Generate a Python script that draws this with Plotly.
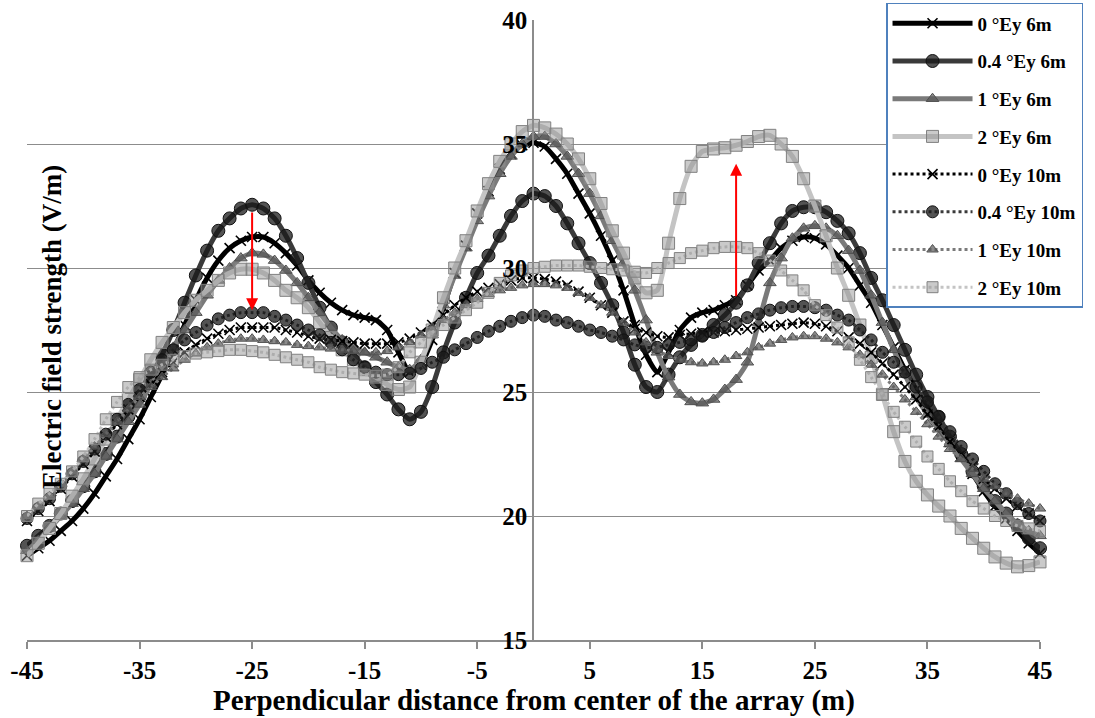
import plotly.graph_objects as go

# ---------------- data ----------------
x_pos = list(range(-45, 46))

e0_6 = [18.4, 18.7, 19.0, 19.4, 19.8, 20.3, 20.9, 21.6, 22.3, 23.1,
        23.9, 24.8, 25.7, 26.7, 27.7, 28.7, 29.6, 30.3, 30.8, 31.1,
        31.25, 31.25, 31.0, 30.6, 30.1, 29.5, 29.0, 28.6, 28.3, 28.1,
        28.0, 27.9, 27.5, 26.6, 25.8, 26.1, 27.1, 28.4, 29.8, 30.9,
        32.2, 33.1, 34.0, 34.6, 34.95,
        35.05,
        34.9, 34.4, 33.8, 33.0, 32.2, 31.3, 30.3, 29.1, 27.7, 26.5,
        25.8, 26.6, 27.5, 28.0, 28.2, 28.3, 28.5, 28.7, 29.3, 29.9,
        30.3, 30.8, 31.1, 31.25, 31.2, 30.95, 30.5, 30.0, 29.3, 28.6,
        27.7, 26.8, 25.9, 25.1, 24.4, 23.7, 23.1, 22.4, 21.7, 21.0,
        20.4, 19.9, 19.4, 18.9, 18.5]

e04_6 = [18.8, 19.2, 19.6, 20.1, 20.6, 21.2, 21.8, 22.5, 23.2, 24.0,
         24.8, 25.6, 26.5, 27.5, 28.6, 29.7, 30.7, 31.5, 32.0, 32.4,
         32.55, 32.4, 32.0, 31.3, 30.4, 29.4, 28.4, 27.6, 27.0, 26.5,
         26.0, 25.4, 24.9, 24.3, 23.9, 24.2, 25.2, 26.6, 27.8, 28.8,
         29.8, 30.5, 31.3, 32.1, 32.7,
         33.0,
         32.9, 32.5, 31.8, 31.0, 30.2, 29.4, 28.5, 27.4, 26.1, 25.2,
         25.0, 25.7, 26.4, 26.9, 27.3, 27.7, 28.1, 28.6, 29.3, 30.2,
         31.0, 31.8, 32.3, 32.45, 32.45, 32.25, 31.9, 31.4, 30.6, 29.6,
         28.7, 27.7, 26.7, 25.7, 24.8, 24.0, 23.2, 22.5, 21.8, 21.2,
         20.6, 20.1, 19.6, 19.1, 18.7]

e1_6 = [18.6, 19.0, 19.5, 20.0, 20.5, 21.1, 21.7, 22.4, 23.1, 23.8,
        24.5, 25.3, 26.0, 26.8, 27.5, 28.2, 28.9, 29.5, 30.0, 30.4,
        30.6, 30.55, 30.3, 29.9, 29.4, 28.8, 28.2, 27.6, 27.1, 26.8,
        26.6, 26.4, 26.2, 26.0, 25.9, 26.3, 27.3, 28.5, 29.7, 30.8,
        31.9, 32.9, 33.8, 34.5, 35.0,
        35.3,
        35.3, 35.0, 34.5, 33.8, 33.0, 32.1, 31.1, 30.2, 29.1, 27.9,
        26.6, 25.6, 24.9, 24.6, 24.55, 24.7, 25.1, 25.5, 26.2, 27.8,
        29.4, 30.4, 31.2, 31.6, 31.7, 31.6, 31.3, 30.7, 29.9, 28.9,
        27.8, 26.7, 25.7, 24.8, 24.1, 23.5, 22.9, 22.3, 21.7, 21.1,
        20.6, 20.1, 19.7, 19.4, 19.2]

e2_6 = [18.4, 18.9, 19.5, 20.1, 20.8, 21.5, 22.3, 23.1, 23.9, 24.7,
        25.5, 26.3, 27.0, 27.6, 28.2, 28.7, 29.1, 29.5, 29.8, 29.95,
        29.95, 29.8, 29.5, 29.1, 28.8, 28.4, 27.8, 27.2, 26.7, 26.3,
        25.9, 25.6, 25.3, 25.1, 25.2, 26.2, 27.5, 28.8, 30.0, 31.1,
        32.3, 33.4, 34.3, 35.0, 35.5,
        35.75,
        35.65, 35.4, 35.0, 34.4, 33.6, 32.6, 31.5, 30.6, 29.6, 29.0,
        29.1, 31.0, 32.8, 34.1, 34.7, 34.8, 34.85, 34.95, 35.1, 35.3,
        35.35, 35.0, 34.5, 33.6, 32.5, 31.3, 30.0, 28.9, 27.7, 26.4,
        24.9, 23.4, 22.2, 21.4, 20.85, 20.4, 20.0, 19.5, 19.1, 18.7,
        18.35, 18.1, 17.95, 18.0, 18.15]

e0_10 = [19.8, 20.2, 20.6, 21.1, 21.6, 22.1, 22.6, 23.2, 23.7, 24.3,
         24.8, 25.3, 25.8, 26.2, 26.6, 26.9, 27.15, 27.35, 27.5, 27.6,
         27.6, 27.6, 27.6, 27.5, 27.4, 27.25, 27.15, 27.1, 27.05, 27.0,
         26.95, 26.95, 26.95, 27.0, 27.15, 27.4, 27.7, 28.1, 28.5, 28.8,
         29.05, 29.2, 29.35, 29.5, 29.6,
         29.6,
         29.55, 29.45, 29.3, 29.05, 28.8, 28.5, 28.2, 27.85, 27.55, 27.4,
         27.25, 27.2, 27.3, 27.35, 27.4, 27.4, 27.45, 27.5, 27.55, 27.6,
         27.65, 27.7, 27.75, 27.8, 27.75, 27.65, 27.45, 27.2, 26.95, 26.6,
         26.15, 25.7, 25.2, 24.7, 24.1, 23.6, 23.0, 22.5, 22.0, 21.5,
         21.1, 20.7, 20.4, 20.1, 19.8]

e04_10 = [19.9, 20.3, 20.7, 21.2, 21.7, 22.2, 22.7, 23.3, 23.9, 24.5,
          25.1, 25.8, 26.3, 26.7, 27.1, 27.4, 27.7, 27.95, 28.1, 28.2,
          28.2, 28.2, 28.05, 27.9, 27.7, 27.5, 27.3, 27.0, 26.7, 26.3,
          26.0, 25.8, 25.7, 25.7, 25.75, 25.95, 26.2, 26.4, 26.7, 26.95,
          27.2, 27.45, 27.65, 27.85, 28.0,
          28.1,
          28.05, 27.9, 27.8, 27.65, 27.5, 27.4, 27.25, 27.1, 26.9, 26.8,
          26.8, 26.9, 27.0, 27.1, 27.25, 27.4, 27.6, 27.8, 28.0, 28.15,
          28.3, 28.4, 28.45, 28.45, 28.4, 28.3, 28.1, 27.9, 27.5, 27.1,
          26.6, 26.2, 25.8, 25.2, 24.6, 24.0, 23.4, 22.8, 22.3, 21.8,
          21.3, 20.9, 20.5, 20.1, 19.8]

e1_10 = [20.0, 20.4, 20.8, 21.3, 21.8, 22.3, 22.8, 23.3, 23.8, 24.3,
         24.8, 25.2, 25.6, 25.95, 26.3, 26.55, 26.8, 26.95, 27.1, 27.15,
         27.15, 27.1, 27.05, 27.0, 26.9, 26.85, 26.8, 26.75, 26.7, 26.65,
         26.6, 26.6, 26.65, 26.8, 27.0, 27.3, 27.6, 27.9, 28.2, 28.5,
         28.75, 28.95, 29.1, 29.2, 29.3,
         29.35,
         29.35, 29.3, 29.2, 29.0, 28.8, 28.5, 28.2, 27.8, 27.4, 27.0,
         26.7, 26.45, 26.3, 26.2, 26.15, 26.2, 26.3, 26.45, 26.6, 26.8,
         26.95, 27.1, 27.2, 27.25, 27.25, 27.15, 27.0, 26.8, 26.5, 26.1,
         25.7, 25.2, 24.7, 24.2, 23.7, 23.2, 22.7, 22.3, 21.9, 21.5,
         21.2, 20.9, 20.7, 20.5, 20.3]

e2_10 = [20.0, 20.5, 20.9, 21.3, 21.8, 22.4, 23.1, 23.9, 24.6, 25.2,
         25.6, 25.9, 26.1, 26.3, 26.45, 26.55, 26.6, 26.65, 26.7, 26.7,
         26.65, 26.6, 26.5, 26.4, 26.3, 26.2, 26.0, 25.9, 25.8, 25.75,
         25.7, 25.65, 25.7, 26.0, 26.6, 27.0, 27.4, 27.7, 28.0, 28.3,
         28.6, 29.0, 29.4, 29.7, 29.9,
         30.0,
         30.05, 30.1, 30.1, 30.1, 30.05, 30.0, 29.95, 29.9, 29.85, 29.8,
         30.0, 30.2, 30.4, 30.6, 30.7, 30.8, 30.85, 30.85, 30.8, 30.6,
         30.3, 29.9, 29.5, 29.1, 28.5, 28.1, 27.6, 27.0, 26.3, 25.6,
         24.9, 24.2, 23.6, 23.0, 22.4, 21.9, 21.4, 21.0, 20.6, 20.3,
         20.0, 19.8, 19.6, 19.5, 19.4]

names = ["0 °Ey 6m", "0.4 °Ey 6m", "1 °Ey 6m", "2 °Ey 6m",
         "0 °Ey 10m", "0.4 °Ey 10m", "1 °Ey 10m", "2 °Ey 10m"]
series = [e0_6, e04_6, e1_6, e2_6, e0_10, e04_10, e1_10, e2_10]

x_ticks = [-45, -35, -25, -15, -5, 5, 15, 25, 35, 45]
y_ticks = [15, 20, 25, 30, 35, 40]

# arrows: (x, from value, to value)
arrows = [(-25, 32.3, 28.3), (18, 28.8, 34.2)]

for s in series:
    assert len(s) == len(x_pos)

# ---------------- styles ----------------
FONT = "Times New Roman, Liberation Serif, serif"
line_colors = ["#000000", "#3a3a3a", "#7a7a7a", "#c4c4c4"]
marker_symbols = ["x-thin-open", "circle", "triangle-up", "square"]
marker_fill = ["rgba(0,0,0,1)", "rgba(25,25,25,0.75)",
               "rgba(90,90,90,0.7)", "rgba(150,150,150,0.5)"]
marker_edge = ["#000000", "#111111", "#505050", "#808080"]
marker_size = [10, 13, 11, 12]

fig = go.Figure()
for i, (nm, vals) in enumerate(zip(names, series)):
    k = i % 4
    is10 = i >= 4
    mk = dict(symbol=marker_symbols[k], size=marker_size[k] - (1 if is10 and k > 0 else 0),
              color=marker_fill[k], line=dict(color=marker_edge[k], width=1))
    if k == 0:
        mk["color"] = "#000000"
        mk["line"] = dict(color="#000000", width=1.6)
    fig.add_trace(go.Scatter(
        x=x_pos, y=vals, name="<b>" + nm + "</b>", mode="lines+markers",
        line=dict(color=line_colors[k], width=3 if is10 else 5,
                  dash="dot" if is10 else "solid", shape="spline", smoothing=0.6),
        marker=mk, cliponaxis=False, legendgroup=nm,
    ))

for (xa, y0, y1) in arrows:
    fig.add_annotation(x=xa, y=y1, ax=xa, ay=y0, xref="x", yref="y",
                       axref="x", ayref="y", showarrow=True, arrowhead=2,
                       arrowsize=1.2, arrowwidth=2, arrowcolor="#ff0000", text="")

fig.add_annotation(text="<b>Electric field strength (V/m)</b>", textangle=-90,
                   xref="paper", yref="paper", x=0.008, y=0.505,
                   showarrow=False, font=dict(family=FONT, size=27, color="black"))
fig.add_annotation(text="<b>Perpendicular distance from center of the array (m)</b>",
                   xref="paper", yref="paper", x=0.5, y=-0.097, yanchor="middle",
                   showarrow=False, font=dict(family=FONT, size=29, color="black"))

fig.update_layout(
    width=1095, height=718,
    margin=dict(l=27, r=55, t=20, b=78, autoexpand=False),
    paper_bgcolor="white", plot_bgcolor="white",
    font=dict(family=FONT, color="black"),
    legend=dict(x=0.848, y=1.0275, xanchor="left", yanchor="top",
                bgcolor="white", bordercolor="#4F81BD", borderwidth=1.5,
                font=dict(family=FONT, size=19, color="black"),
                tracegroupgap=10, itemwidth=80),
    xaxis=dict(range=[-45, 45], tickvals=x_ticks, automargin=False,
               ticktext=["<b>%d</b>" % v for v in x_ticks],
               showgrid=False, zeroline=False, showline=True, linecolor="#8c8c8c",
               linewidth=1.5, ticks="outside", ticklen=7, tickcolor="#8c8c8c",
               tickwidth=1.5,
               tickfont=dict(family=FONT, size=25, color="black")),
    yaxis=dict(range=[15, 40], tickvals=y_ticks, automargin=False,
               ticktext=["<b>%d</b>" % v for v in y_ticks],
               showgrid=True, gridcolor="#8c8c8c",
               gridwidth=1.3, zeroline=False, showline=True, linecolor="#8c8c8c",
               linewidth=1.5, anchor="free", position=0.4995, ticks="",
               tickfont=dict(family=FONT, size=25, color="black")),
    showlegend=True,
)

fig.write_html("out.html")
